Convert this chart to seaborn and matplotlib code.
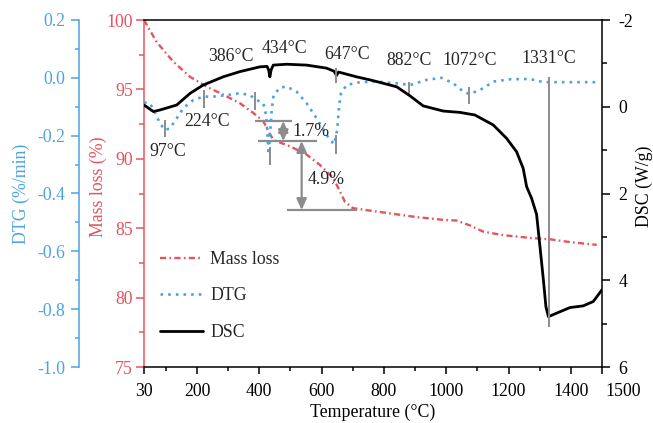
import numpy as np
import pandas as pd
import matplotlib
matplotlib.use("Agg")
import matplotlib.pyplot as plt
import matplotlib.transforms as mtransforms
from matplotlib.ticker import MultipleLocator, FormatStrFormatter
import seaborn as sns

# ---------------- data ----------------
mass_temp = [30, 71, 124, 178, 231, 295, 338, 381, 413, 429, 445, 499, 552, 595,
             638, 660, 675, 700, 745, 841, 905, 991, 1034, 1076, 1119, 1183,
             1269, 1333, 1397, 1483]
mass_loss = [100.0, 98.4, 97.0, 95.9, 95.2, 94.5, 94.0, 93.3, 92.7, 92.0, 91.35,
             90.9, 90.3, 89.55, 88.6, 87.6, 86.9, 86.45, 86.3, 86.0, 85.8, 85.6,
             85.55, 85.2, 84.75, 84.5, 84.3, 84.2, 84.0, 83.8]

dtg_temp = [30, 49, 65, 81, 97, 113, 135, 156, 188, 220, 252, 295, 338, 370, 392,
            413, 422, 426, 430, 435, 440, 446, 466, 488, 520, 552, 584, 616, 640,
            650, 656, 662, 680, 723, 777, 841, 884, 937, 985, 1023, 1055, 1075,
            1100, 1119, 1151, 1205, 1269, 1312, 1365, 1494]
dtg_vals = [-0.085, -0.088, -0.12, -0.157, -0.18, -0.175, -0.14, -0.105, -0.077,
            -0.065, -0.065, -0.06, -0.053, -0.06, -0.077, -0.088, -0.13, -0.19,
            -0.265, -0.19, -0.11, -0.06, -0.034, -0.03, -0.048, -0.088, -0.14,
            -0.198, -0.23, -0.18, -0.10, -0.055, -0.025, -0.015, -0.013, -0.019,
            -0.025, -0.007, 0.0, -0.019, -0.048, -0.056, -0.045, -0.036, -0.013,
            -0.005, -0.004, -0.015, -0.015, -0.015]

dsc_temp = [30, 60, 81, 135, 178, 220, 284, 338, 402, 425, 430, 434, 438, 445,
            488, 552, 616, 640, 648, 654, 665, 712, 755, 777, 841, 884, 926, 991,
            1044, 1092, 1151, 1194, 1226, 1247, 1258, 1274, 1290, 1301, 1312,
            1320, 1328, 1354, 1397, 1440, 1472, 1500]
dsc_vals = [-0.04, 0.11, 0.075, -0.04, -0.31, -0.50, -0.69, -0.81, -0.92, -0.93,
            -0.85, -0.69, -0.85, -0.96, -0.98, -0.96, -0.89, -0.82, -0.72, -0.80,
            -0.78, -0.69, -0.62, -0.58, -0.46, -0.25, -0.02, 0.10, 0.13, 0.19,
            0.42, 0.73, 1.04, 1.42, 1.84, 2.11, 2.48, 3.23, 4.0, 4.61, 4.84, 4.76,
            4.63, 4.59, 4.49, 4.22]

# peak markers on DTG curve: temperature, top, bottom (DTG units)
dtg_mark_temp = [97, 224, 386, 434, 647, 882, 1072]
dtg_mark_top = [-0.146, -0.042, -0.048, -0.238, -0.198, -0.016, -0.031]
dtg_mark_bot = [-0.204, -0.103, -0.111, -0.301, -0.263, -0.059, -0.092]
# peak markers on DSC curve (DSC units)
dsc_mark_temp = [647, 1331]
dsc_mark_top = [-0.886, -0.69]
dsc_mark_bot = [-0.541, 5.07]

# peak labels (placed in temperature / mass-loss coordinates)
peak_labels = ["97°C", "224°C", "386°C", "434°C", "647°C", "882°C", "1072°C", "1331°C"]
peak_lab_t = [105, 234, 309, 480, 681, 881, 1074, 1328]
peak_lab_m = [90.51, 92.67, 97.36, 97.96, 97.53, 97.05, 97.05, 97.24]

# mass step annotations
step_levels = [92.72, 91.28, 86.31]
step_t0 = [386, 397, 488]
step_t1 = [504, 584, 713]
step_arrow_t = [477, 536]
step_texts = ["1.7%", "4.9%"]
step_text_t = [505, 556]
step_text_m = [92.0, 88.5]

x_ticks = [30, 200, 400, 600, 800, 1000, 1200, 1400, 1500]

# ---------------- style ----------------
sns.set_theme(style="white")
plt.rcParams["font.family"] = ["Liberation Serif", "DejaVu Serif"]
plt.rcParams["axes.unicode_minus"] = False

red = "#E5535F"
blue = "#4DA3E2"
gray = "#8C8C8C"
fs = 12.8

fig = plt.figure(figsize=(6.53, 4.23), dpi=100)
ax = fig.add_axes([144 / 653, 1 - 367 / 423, 458 / 653, 347 / 423])
ax_dtg = ax.twinx()
ax_dsc = ax.twinx()

sns.lineplot(x=mass_temp, y=mass_loss, ax=ax, color=red, linewidth=1.7,
             linestyle=(0, (2.6, 1.4, 0.7, 1.4)), estimator=None, sort=False)
sns.lineplot(x=dtg_temp, y=dtg_vals, ax=ax_dtg, color=blue, linewidth=1.9,
             linestyle=(0, (1, 1.9)), estimator=None, sort=False)
sns.lineplot(x=dsc_temp, y=dsc_vals, ax=ax_dsc, color="black", linewidth=2.0,
             estimator=None, sort=False)

h_mass = ax.lines[-1]
h_dtg = ax_dtg.lines[-1]
h_dsc = ax_dsc.lines[-1]

# limits
ax.set_xlim(30, 1500)
ax.set_ylim(75, 100)
ax_dtg.set_ylim(-1.0, 0.2)
ax_dsc.set_ylim(6, -2)

# markers
ax_dtg.vlines(dtg_mark_temp, dtg_mark_bot, dtg_mark_top, color=gray, lw=1.4)
ax_dsc.vlines(dsc_mark_temp, dsc_mark_bot, dsc_mark_top, color=gray, lw=1.4)

# step lines and arrows
ax.hlines(step_levels, step_t0, step_t1, color=gray, lw=1.6)
for i, t in enumerate(step_arrow_t):
    ax_dsc.annotate("", xy=(t, step_levels[i + 1]), xytext=(t, step_levels[i]),
                    xycoords=ax.transData, textcoords=ax.transData,
                    arrowprops=dict(arrowstyle="<|-|>,head_length=0.55,head_width=0.25",
                                    color=gray, lw=1.6, shrinkA=0, shrinkB=0))
for s, t, m in zip(step_texts, step_text_t, step_text_m):
    ax_dsc.text(t, m, s, transform=ax.transData, ha="left", va="center", fontsize=fs)

for s, t, m in zip(peak_labels, peak_lab_t, peak_lab_m):
    ax_dsc.text(t, m, s, transform=ax.transData, ha="center", va="center", fontsize=fs)

# ---------------- axes styling ----------------
for a in (ax, ax_dtg, ax_dsc):
    for sp in a.spines.values():
        sp.set_visible(False)
        sp.set_linewidth(1.1)
    a.set_xlabel("")

ax.spines["left"].set_visible(True)
ax.spines["left"].set_color(red)
ax.spines["bottom"].set_visible(True)
ax.spines["bottom"].set_color("black")
ax.spines["top"].set_visible(True)
ax.spines["top"].set_color("black")

ax_dtg.spines["left"].set_visible(True)
ax_dtg.spines["left"].set_position(("axes", -0.142))
ax_dtg.spines["left"].set_color(blue)
ax_dtg.yaxis.set_ticks_position("left")
ax_dtg.yaxis.set_label_position("left")

ax_dsc.spines["right"].set_visible(True)
ax_dsc.spines["right"].set_color("black")

# x axis
ax.set_xticks(x_ticks, labels=[str(v) for v in x_ticks])
ax.xaxis.set_minor_locator(MultipleLocator(100))
ax.tick_params(axis="x", which="both", direction="out", bottom=True, top=False,
               colors="black", labelsize=fs, width=1.1, pad=6.5)
ax.tick_params(axis="x", which="major", length=5)
ax.tick_params(axis="x", which="minor", length=3)
lbl = ax.get_xticklabels()[-1]
lbl.set_ha("left")
lbl.set_transform(lbl.get_transform() + mtransforms.ScaledTranslation(3 / 100, 0, fig.dpi_scale_trans))
ax.set_xlabel("Temperature (°C)", fontsize=fs, color="black", va="center")
ax.xaxis.set_label_coords(0.5, -0.131)

# mass loss axis
ax.yaxis.set_major_locator(MultipleLocator(5))
ax.yaxis.set_minor_locator(MultipleLocator(2.5))
ax.tick_params(axis="y", which="both", direction="out", left=True, right=False,
               colors=red, labelsize=fs, width=1.1, pad=2)
ax.tick_params(axis="y", which="major", length=6)
ax.tick_params(axis="y", which="minor", length=3.5)
ax.set_ylabel("Mass loss (%)", fontsize=fs, color=red, va="center")
ax.yaxis.set_label_coords(-0.1, 0.52)

# DTG axis
ax_dtg.yaxis.set_major_locator(MultipleLocator(0.2))
ax_dtg.yaxis.set_minor_locator(MultipleLocator(0.1))
ax_dtg.yaxis.set_major_formatter(FormatStrFormatter("%.1f"))
ax_dtg.tick_params(axis="y", which="both", direction="out", left=True, right=False,
                   labelleft=True, labelright=False,
                   colors=blue, labelsize=fs, width=1.1, pad=4.5)
ax_dtg.tick_params(axis="y", which="major", length=5.5)
ax_dtg.tick_params(axis="y", which="minor", length=3)
ax_dtg.set_ylabel("DTG (%/min)", fontsize=fs, color=blue, va="center")
ax_dtg.yaxis.set_label_coords(-0.268, 0.5)

# DSC axis
ax_dsc.yaxis.set_major_locator(MultipleLocator(2))
ax_dsc.yaxis.set_minor_locator(MultipleLocator(1))
ax_dsc.tick_params(axis="y", which="both", direction="out", right=True, left=False,
                   colors="black", labelsize=fs, width=1.1, pad=6)
ax_dsc.tick_params(axis="y", which="major", length=6)
ax_dsc.tick_params(axis="y", which="minor", length=3.5)
ax_dsc.set_ylabel("DSC (W/g)", fontsize=fs, color="black", va="center", rotation=90)
ax_dsc.yaxis.set_label_coords(1.092, 0.52)

# legend
ax_dsc.legend([h_mass, h_dtg, h_dsc], ["Mass loss", "DTG", "DSC"], loc="center left",
              bbox_to_anchor=(0.02, 0.205), frameon=False, fontsize=fs,
              handlelength=2.4, handletextpad=0.4, labelspacing=1.1, borderaxespad=0)

fig.savefig("out.png", dpi=100)
